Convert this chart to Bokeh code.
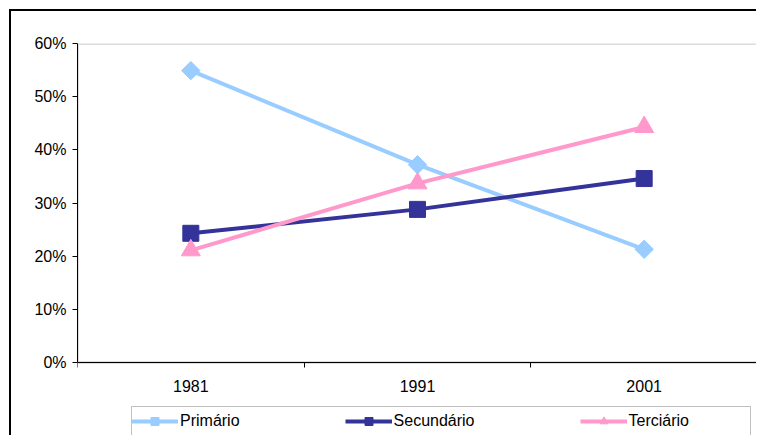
import numpy as np
from bokeh.plotting import figure
from bokeh.models import (Range1d, FixedTicker, Legend, LegendItem, NumeralTickFormatter, BoxAnnotation)
from bokeh.embed import file_html
from bokeh.resources import INLINE

years = ["1981", "1991", "2001"]
primario = [0.549, 0.372, 0.213]
secundario = [0.243, 0.288, 0.346]
terciario = [0.211, 0.337, 0.443]
y_ticks = [0.0, 0.1, 0.2, 0.3, 0.4, 0.5, 0.6]

FONT = "Liberation Sans"

# layout geometry (pixels)
PLOT_H = 319      # height of the value area (0% .. 60%)
LEGEND_AREA = 75  # space below the value area for labels and legend
y_top = y_ticks[-1]
y_bottom = -y_top * LEGEND_AREA / PLOT_H

x_centers = [i + 0.5 for i in range(len(years))]
x_bounds = [i for i in range(len(years) + 1)]

p = figure(width=747, height=426, output_backend="svg", toolbar_location=None,
           x_range=Range1d(0, len(years)), y_range=Range1d(y_bottom, y_top),
           min_border_left=66, min_border_top=32, min_border_right=1, min_border_bottom=0)
p.margin = (9, 0, 0, 9)
p.styles = {"border-left": "2px solid black", "border-top": "2px solid black"}
p.xgrid.visible = False
p.ygrid.visible = False
p.outline_line_color = None
p.background_fill_color = "white"
p.border_fill_color = "white"

# plot-area frame (gray), under the axes
p.add_layout(BoxAnnotation(left=x_bounds[0], right=x_bounds[-1], bottom=y_ticks[0], top=y_top,
                           fill_alpha=0, line_color="#8c8c8c", line_width=3, level="underlay"))

series = [
    ("Primário", primario, "#99CCFF", "square", 13, np.pi / 4),
    ("Secundário", secundario, "#333399", "square", 16, 0),
    ("Terciário", terciario, "#FF99CC", "triangle", 19, 0),
]
items = []
for name, vals, color, marker, size, ang in series:
    lr = p.line(x_centers, vals, line_color=color, line_width=4)
    sr = p.scatter(x_centers, vals, marker=marker, size=size, angle=ang,
                   fill_color=color, line_color=color)
    items.append(LegendItem(label=name, renderers=[lr, sr]))

# axes
p.yaxis.ticker = FixedTicker(ticks=y_ticks)
p.yaxis.bounds = (y_ticks[0], y_top)
p.yaxis.formatter = NumeralTickFormatter(format="0%")
p.yaxis.axis_line_color = "black"
p.yaxis.major_tick_line_color = "black"
p.yaxis.major_tick_out = 5
p.yaxis.major_tick_in = 0
p.yaxis.minor_tick_line_color = None
p.yaxis.major_label_standoff = 6
p.yaxis.major_label_text_font = FONT
p.yaxis.major_label_text_font_size = "16px"
p.yaxis.major_label_text_color = "black"

p.xaxis.fixed_location = y_ticks[0]
p.xaxis.ticker = FixedTicker(ticks=x_centers, minor_ticks=x_bounds)
p.xaxis.major_label_overrides = {x: y for x, y in zip(x_centers, years)}
p.xaxis.axis_line_color = "black"
p.xaxis.major_tick_out = 0
p.xaxis.major_tick_in = 0
p.xaxis.minor_tick_out = 5
p.xaxis.minor_tick_in = 0
p.xaxis.minor_tick_line_color = "black"
p.xaxis.major_label_standoff = 12
p.xaxis.major_label_text_font = FONT
p.xaxis.major_label_text_font_size = "16px"
p.xaxis.major_label_text_color = "black"

legend = Legend(items=items, orientation="horizontal", location=(54, 6))
legend.glyph_width = 47
legend.glyph_height = 20
legend.label_standoff = 2
legend.spacing = 105
legend.padding = 6
legend.margin = 0
legend.border_line_color = None
legend.background_fill_alpha = 0
legend.label_text_font = FONT
legend.label_text_font_size = "16px"
legend.label_text_color = "black"
p.add_layout(legend, "center")

# legend frame (canvas pixels)
p.add_layout(BoxAnnotation(left=118, right=737, top=393, bottom=423,
                           left_units="canvas", right_units="canvas",
                           top_units="canvas", bottom_units="canvas",
                           fill_alpha=0, line_color="#333333", line_width=1))

open("out.html", "w").write(file_html(p, INLINE))
